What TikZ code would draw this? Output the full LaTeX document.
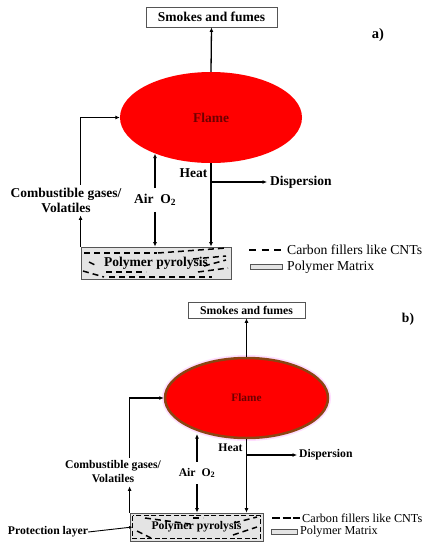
\documentclass[tikz,border=0pt]{standalone}
\usepackage{fontspec}
\setmainfont{Liberation Serif}
\usepackage{tikz}
\usetikzlibrary{arrows.meta, positioning, shapes.geometric}
\definecolor{flamered}{HTML}{FF0000}
\definecolor{flametext}{HTML}{6E0000}
\definecolor{flameedge}{HTML}{8B4513}
\definecolor{flamehalo}{HTML}{FFDDFF}
\definecolor{matrix}{HTML}{E4E4E4}
\definecolor{edge}{HTML}{555555}

\begin{document}
\begin{tikzpicture}[
  x=1pt, y=-1pt,
  bigfont/.style={font=\fontsize{13.5}{15}\selectfont\bfseries},
  smallfont/.style={font=\fontsize{11.7}{14}\selectfont\bfseries},
  smokebox/.style={rectangle, draw=edge, line width=0.8pt, fill=white, inner sep=0pt},
  flame/.style={ellipse, fill=flamered, text=flametext, inner sep=0pt},
  polybox/.style={rectangle, draw=edge, line width=0.8pt, fill=matrix, inner sep=0pt},
  arrow/.style={-{Latex[length=4.5pt, width=4pt]}, line width=1.3pt},
  thinarrow/.style={-{Latex[length=3.5pt, width=3pt]}, line width=0.9pt},
  filler/.style={line width=1.5pt, dash pattern=on 6pt off 4pt},
  legend/.style={anchor=west, inner sep=0pt},
]
\useasboundingbox (0,0) rectangle (429,550);

% ---- a) ----
\node[smokebox, bigfont, minimum width=131pt, minimum height=20pt] (smokeA) at (211.5,17) {Smokes and fumes};
\node[bigfont, font=\fontsize{14.5}{16}\selectfont\bfseries] (tagA) at (378,35) {a)};
\node[flame, bigfont, minimum width=182pt, minimum height=91pt] (flameA) at (211,117.5) {Flame};
\node[polybox, bigfont, minimum width=150pt, minimum height=32pt] (polyA) at (156,263) {};
\begin{scope}
  \clip (polyA.north west) rectangle (polyA.south east);
  \draw[filler] (84,253) -- (157,253);
  \draw[filler] (158,253) -- (226,248);
  \draw[filler] (193,259) -- (226,256);
  \draw[filler] (89,262) -- (97,266);
  \draw[filler] (204,266) -- (226,260);
  \draw[filler] (83,271) -- (104,277);
  \draw[filler] (106,272) -- (146,272);
  \draw[filler] (109,277) -- (212,277);
  \draw[filler] (198,272) -- (228,268);
\end{scope}
\node[bigfont] (pyroA) at (polyA) {Polymer pyrolysis};
\node[bigfont, align=center, inner sep=3pt] (combA) at (66,200) {Combustible gases/\\Volatiles};
\node[bigfont, inner sep=6pt] (airA) at (155,200) {Air\ \ O$_\mathbf{2}$};
\node[bigfont, inner sep=0pt] (heatA) at (193.5,173) {Heat};
\node[bigfont, legend] (dispA) at (270,182) {Dispersion};

\draw[arrow] (flameA.north) -- (smokeA.south);
\draw[arrow] (polyA.north west) -- (polyA.north west |- combA.south);
\draw[arrow] (polyA.north west |- combA.north) |- (flameA.west);
\draw[arrow] (airA.north) -- (airA.north |- flameA.213);
\draw[arrow] (airA.south) -- (airA.south |- polyA.north);
\draw[arrow] (flameA.south) -- (flameA.south |- polyA.north);
\draw[arrow] (flameA.south |- dispA.west) -- ([xshift=-3pt]dispA.west);

\draw[line width=1.5pt, dash pattern=on 7pt off 5.5pt] (249,250) -- (282,250);
\node[legend, font=\fontsize{13.7}{15}\selectfont] (cntA) at (287,250) {Carbon fillers like CNTs};
\draw[edge, fill=matrix, line width=0.7pt] (250,264) rectangle (282,269);
\node[legend, font=\fontsize{13.7}{15}\selectfont] (matA) at (287,267) {Polymer Matrix};

% ---- b) ----
\node[smokebox, smallfont, minimum width=117pt, minimum height=16pt] (smokeB) at (246.5,310) {Smokes and fumes};
\node[smallfont, font=\fontsize{13.5}{15}\selectfont\bfseries] (tagB) at (408,319) {b)};
\draw[flamehalo, line width=2pt] (246.5,398) ellipse (83.5pt and 42pt);
\node[flame, draw=flameedge, line width=2.5pt, minimum width=163pt, minimum height=80pt,
      font=\fontsize{11.3}{13}\selectfont\bfseries] (flameB) at (246.5,398) {Flame};
\node[polybox, minimum width=133pt, minimum height=28pt] (polyB) at (196.5,527) {};
\draw[line width=1.5pt, dash pattern=on 5pt off 2.5pt] ([shift={(3,3)}]polyB.north west) rectangle ([shift={(-3,-3)}]polyB.south east);
\draw[filler] (145,518) -- (190,524);
\draw[filler] (137,531) -- (151,538);
\draw[filler] (193,518) -- (203,518);
\draw[filler] (234,523) -- (257,517);
\draw[filler] (233,535) -- (257,527);
\node[smallfont] (pyroB) at (polyB) {Polymer pyrolysis};
\node[smallfont, align=center, inner sep=3pt] (combB) at (113,472) {Combustible gases/\\Volatiles};
\node[smallfont, inner sep=6pt] (airB) at (197,473) {Air\ \ O$_\mathbf{2}$};
\node[smallfont, inner sep=0pt] (heatB) at (230.5,448) {Heat};
\node[smallfont, legend] (dispB) at (299,455) {Dispersion};
\node[smallfont, inner sep=0pt] (protB) at (48,532) {Protection layer};

\draw[arrow] (flameB.north) -- (smokeB.south);
\draw[arrow] (polyB.north west) -- (polyB.north west |- combB.south);
\draw[arrow] (polyB.north west |- combB.north) |- (flameB.west);
\draw[arrow] (airB.north) -- (airB.north |- flameB.222);
\draw[arrow] (airB.south) -- (airB.south |- polyB.north);
\draw[arrow] (flameB.south) -- (flameB.south |- polyB.north);
\draw[arrow] (flameB.south |- dispB.west) -- ([xshift=-2pt]dispB.west);
\draw[thinarrow] (protB.east) -- ([xshift=3pt]polyB.west);

\draw[line width=1.5pt, dash pattern=on 8pt off 2.5pt] (272,518) -- (300,518);
\node[legend, font=\fontsize{12.2}{14}\selectfont] (cntB) at (302,518) {Carbon fillers like CNTs};
\draw[edge, fill=matrix, line width=0.7pt] (271,529.5) rectangle (297,534.5);
\node[legend, font=\fontsize{12.2}{14}\selectfont] (matB) at (300,532) {Polymer Matrix};
\end{tikzpicture}
\end{document}
